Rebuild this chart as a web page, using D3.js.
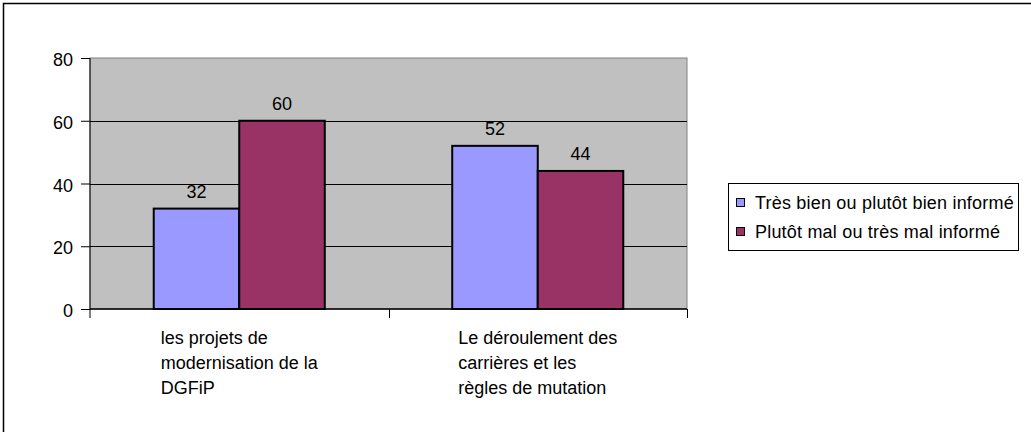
<!DOCTYPE html>
<html>
<head>
<meta charset="utf-8">
<script src="https://cdn.jsdelivr.net/npm/d3@7"></script>
<style>
  html, body { margin: 0; padding: 0; background: #fff; }
  svg { display: block; font-family: "Liberation Sans", Arial, sans-serif; }
</style>
</head>
<body>
<svg id="chart" width="1031" height="432"></svg>
<script>
// data
var categories = [
    ["les projets de", "modernisation de la", "DGFiP"],
    ["Le déroulement des", "carrières et les", "règles de mutation"]
];
var seriesNames = ["Très bien ou plutôt bien informé", "Plutôt mal ou très mal informé"];
var seriesColors = ["#9999ff", "#993366"];
var bienInforme = [32, 52];
var malInforme = [60, 44];
var yTicks = [0, 20, 40, 60, 80];

var svg = d3.select("#chart");
var fontSize = "18px";

// outer chart frame (only top and left edges fall in the picture)
svg.append("rect")
    .attr("x", 3.5).attr("y", 3.5)
    .attr("width", 1040).attr("height", 440)
    .attr("fill", "none")
    .attr("stroke", "#000")
    .attr("stroke-width", 1.5);

var plot = { left: 90, right: 687, top: 58, bottom: 309 };

var x = d3.scaleBand()
    .domain(d3.range(categories.length))
    .range([plot.left, plot.right])
    .padding(0);

var y = d3.scaleLinear()
    .domain([0, 80])
    .range([plot.bottom, plot.top]);

var barW = x.bandwidth() * 0.2865;
var xSeries = d3.scaleBand()
    .domain([0, 1])
    .range([x.bandwidth() / 2 - barW, x.bandwidth() / 2 + barW])
    .padding(0);

// plot area
svg.append("rect")
    .attr("x", plot.left).attr("y", plot.top)
    .attr("width", plot.right - plot.left)
    .attr("height", plot.bottom - plot.top)
    .attr("fill", "#c0c0c0")
    .attr("stroke", "#808080")
    .attr("stroke-width", 1);

// gridlines
svg.append("g")
    .selectAll("line")
    .data(yTicks.filter(function (d) { return d > 0 && d < 80; }))
    .enter().append("line")
    .attr("x1", plot.left).attr("x2", plot.right)
    .attr("y1", function (d) { return Math.round(y(d)) + 0.5; })
    .attr("y2", function (d) { return Math.round(y(d)) + 0.5; })
    .attr("stroke", "#000")
    .attr("stroke-width", 1);

// bars
var rows = categories.map(function (c, i) {
    return [bienInforme[i], malInforme[i]];
});

var groups = svg.append("g")
    .selectAll("g")
    .data(rows)
    .enter().append("g")
    .attr("transform", function (d, i) { return "translate(" + x(i) + ",0)"; });

groups.selectAll("rect")
    .data(function (d) { return d; })
    .enter().append("rect")
    .attr("x", function (d, j) { return xSeries(j); })
    .attr("y", function (d) { return y(d); })
    .attr("width", xSeries.bandwidth())
    .attr("height", function (d) { return y(0) - y(d); })
    .attr("fill", function (d, j) { return seriesColors[j]; })
    .attr("stroke", "#000")
    .attr("stroke-width", 2);

groups.selectAll("text")
    .data(function (d) { return d; })
    .enter().append("text")
    .attr("x", function (d, j) { return xSeries(j) + xSeries.bandwidth() / 2; })
    .attr("y", function (d) { return y(d) - 11; })
    .attr("text-anchor", "middle")
    .style("font-size", fontSize)
    .text(function (d) { return d; });

// y axis
var yAxis = d3.axisLeft(y)
    .tickValues(yTicks)
    .tickSize(9)
    .tickPadding(8);

var yg = svg.append("g")
    .attr("transform", "translate(" + plot.left + ",0)")
    .call(yAxis);
yg.select(".domain").attr("stroke", "#000").attr("d", "M0," + plot.top + "V" + (plot.bottom + 9));
yg.selectAll("text")
    .attr("dy", "0.42em")
    .style("font-size", fontSize)
    .style("font-family", "Liberation Sans, Arial, sans-serif")
    .attr("fill", "#000");
yg.selectAll("line").attr("stroke", "#000");

// x axis line + ticks at band edges
svg.append("line")
    .attr("x1", plot.left).attr("x2", plot.right)
    .attr("y1", plot.bottom).attr("y2", plot.bottom)
    .attr("stroke", "#000")
    .attr("stroke-width", 1.5);

svg.append("g")
    .selectAll("line")
    .data(d3.range(1, categories.length + 1))
    .enter().append("line")
    .attr("x1", function (i) { return Math.round(x(i - 1) + x.bandwidth()) + 0.5; })
    .attr("x2", function (i) { return Math.round(x(i - 1) + x.bandwidth()) + 0.5; })
    .attr("y1", plot.bottom)
    .attr("y2", plot.bottom + 9)
    .attr("stroke", "#000");

// category labels: left-aligned block centred under each category
svg.append("g")
    .selectAll("text")
    .data(categories)
    .enter().append("text")
    .attr("y", 344)
    .style("font-size", fontSize)
    .each(function (d, i) {
        var t = d3.select(this);
        d.forEach(function (line, k) {
            t.append("tspan")
                .attr("dy", k === 0 ? 0 : 25)
                .text(line);
        });
        var w = d3.max(t.selectAll("tspan").nodes(), function (n) { return n.getComputedTextLength(); });
        var left = x(i) + x.bandwidth() / 2 - w / 2;
        t.selectAll("tspan").attr("x", left);
    });

// legend
var legend = svg.append("g");
legend.append("rect")
    .attr("x", 728.5).attr("y", 183.5)
    .attr("width", 290).attr("height", 67)
    .attr("fill", "#fff")
    .attr("stroke", "#000");

var items = legend.selectAll("g")
    .data(seriesNames)
    .enter().append("g")
    .attr("transform", function (d, i) { return "translate(736," + (198 + i * 29) + ")"; });

items.append("rect")
    .attr("x", 0.5).attr("y", 0.5)
    .attr("width", 8).attr("height", 8)
    .attr("fill", function (d, i) { return seriesColors[i]; })
    .attr("stroke", "#000");

items.append("text")
    .attr("x", 19)
    .attr("y", 11)
    .style("font-size", fontSize)
    .style("letter-spacing", "0.2px")
    .text(function (d) { return d; });
</script>
</body>
</html>
